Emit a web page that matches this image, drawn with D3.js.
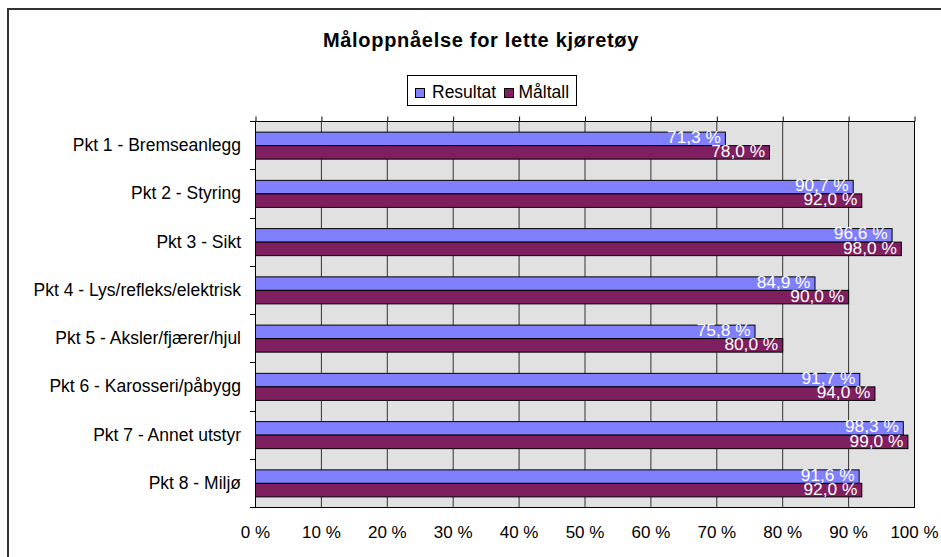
<!DOCTYPE html>
<html>
<head>
<meta charset="utf-8">
<script src="https://cdn.jsdelivr.net/npm/d3@7"></script>
<style>
  html, body { margin: 0; padding: 0; background: #fff; }
  svg { display: block; font-family: "Liberation Sans", Arial, sans-serif; }
</style>
</head>
<body>
<svg id="chart" width="941" height="557"></svg>
<script>
// Inspection points and their scores (percent)
const categories = [
  "Pkt 1 - Bremseanlegg",
  "Pkt 2 - Styring",
  "Pkt 3 - Sikt",
  "Pkt 4 - Lys/refleks/elektrisk",
  "Pkt 5 - Aksler/fjærer/hjul",
  "Pkt 6 - Karosseri/påbygg",
  "Pkt 7 - Annet utstyr",
  "Pkt 8 - Miljø"
];
const seriesNames = ["Resultat", "Måltall"];
const resultat = [71.3, 90.7, 96.6, 84.9, 75.8, 91.7, 98.3, 91.6];
const maltall  = [78.0, 92.0, 98.0, 90.0, 80.0, 94.0, 99.0, 92.0];
const xTicks = [0, 10, 20, 30, 40, 50, 60, 70, 80, 90, 100];
const seriesColors = ["#8080ff", "#7f1f5f"];

const seriesValues = [resultat, maltall];
const rows = categories.map((c, i) => ({
  cat: c,
  vals: seriesNames.map((s, k) => ({ series: s, value: seriesValues[k][i], k }))
}));

const fmt = v => v.toFixed(1).replace(".", ",") + " %";

const svg = d3.select("#chart");
const plot = { left: 255, right: 914, top: 121, bottom: 507 };

// outer chart frame (runs past the right and bottom edges)
svg.append("rect")
  .attr("x", 8).attr("y", 9).attr("width", 1000).attr("height", 700)
  .attr("fill", "#fff").attr("stroke", "#333").attr("stroke-width", 2);

// title
svg.append("text")
  .attr("x", 481).attr("y", 46.5)
  .attr("text-anchor", "middle")
  .attr("font-size", 20).attr("font-weight", "bold")
  .attr("letter-spacing", 0.7)
  .attr("fill", "#000")
  .text("Måloppnåelse for lette kjøretøy");

// scales
const x = d3.scaleLinear().domain([0, 100]).range([plot.left, plot.right]);
const y = d3.scaleBand().domain(categories).range([plot.top, plot.bottom]).padding(0);
const bw = y.bandwidth();
const y1 = d3.scaleBand().domain(seriesNames).range([bw * 0.22, bw * 0.78]).padding(0);

// plot background
svg.append("rect")
  .attr("x", plot.left).attr("y", plot.top)
  .attr("width", plot.right - plot.left).attr("height", plot.bottom - plot.top)
  .attr("fill", "#e1e1e1");

// vertical gridlines
svg.append("g").selectAll("line")
  .data(xTicks.filter(t => t > 0 && t < 100))
  .join("line")
  .attr("x1", d => x(d) + 0.5).attr("x2", d => x(d) + 0.5)
  .attr("y1", plot.top).attr("y2", plot.bottom)
  .attr("stroke", "#333").attr("stroke-width", 1);

// plot frame
svg.append("rect")
  .attr("x", plot.left + 0.5).attr("y", plot.top + 0.5)
  .attr("width", plot.right - plot.left).attr("height", plot.bottom - plot.top)
  .attr("fill", "none").attr("stroke", "#000").attr("stroke-width", 1);

// top tick marks of the value axis
svg.append("g")
  .attr("transform", `translate(0.5,${plot.top + 0.5})`)
  .call(d3.axisTop(x).tickValues(xTicks).tickSize(5).tickFormat(""))
  .call(g => g.select(".domain").remove())
  .call(g => g.selectAll("line").attr("stroke", "#000"));

// value axis labels
svg.append("g")
  .attr("transform", `translate(0,${plot.bottom})`)
  .call(d3.axisBottom(x).tickValues(xTicks).tickSize(0).tickPadding(18.5)
    .tickFormat(d => d + " %"))
  .call(g => g.select(".domain").remove())
  .call(g => g.selectAll("text")
    .attr("font-size", 17).attr("fill", "#000")
    .attr("font-family", "Liberation Sans, Arial, sans-serif"));

// category axis labels
svg.append("g")
  .attr("transform", `translate(${plot.left},0)`)
  .call(d3.axisLeft(y).tickSize(0).tickPadding(14))
  .call(g => g.select(".domain").remove())
  .call(g => g.selectAll("text")
    .attr("font-size", 17.5).attr("fill", "#000").attr("dy", "0.34em")
    .attr("font-family", "Liberation Sans, Arial, sans-serif"));

// category boundary tick marks
const bounds = d3.range(categories.length + 1).map(i => plot.top + i * y.step());
svg.append("g").selectAll("line")
  .data(bounds)
  .join("line")
  .attr("x1", plot.left - 5).attr("x2", plot.left)
  .attr("y1", d => Math.round(d) + 0.5).attr("y2", d => Math.round(d) + 0.5)
  .attr("stroke", "#000");

// bars
const groups = svg.append("g").selectAll("g")
  .data(rows)
  .join("g")
  .attr("transform", d => `translate(0,${y(d.cat)})`);

groups.selectAll("rect")
  .data(d => d.vals)
  .join("rect")
  .attr("x", x(0) + 0.5)
  .attr("y", d => y1(d.series) + 0.5)
  .attr("width", d => x(d.value) - x(0))
  .attr("height", y1.bandwidth())
  .attr("fill", d => seriesColors[d.k])
  .attr("stroke", "#000").attr("stroke-width", 1);

// value labels inside bar ends
groups.selectAll("text")
  .data(d => d.vals)
  .join("text")
  .attr("x", d => x(d.value) - 4)
  .attr("y", d => y1(d.series) + y1.bandwidth() / 2)
  .attr("dy", d => d.k === 0 ? "0.26em" : "0.31em")
  .attr("text-anchor", "end")
  .attr("font-size", 17.3)
  .attr("fill", "#fff")
  .text(d => fmt(d.value));

// legend
const legend = svg.append("g");
legend.append("rect")
  .attr("x", 407.5).attr("y", 75.5).attr("width", 169).attr("height", 30)
  .attr("fill", "#fff").attr("stroke", "#000");
const legendItems = [
  { name: seriesNames[0], sx: 415, tx: 432 },
  { name: seriesNames[1], sx: 504, tx: 518.5 }
];
legendItems.forEach((it, k) => {
  legend.append("rect")
    .attr("x", it.sx + 0.5).attr("y", 88.5).attr("width", 9).attr("height", 9)
    .attr("fill", seriesColors[k]).attr("stroke", "#000");
  legend.append("text")
    .attr("x", it.tx).attr("y", 98.3)
    .attr("font-size", 17.5).attr("fill", "#000")
    .text(it.name);
});
</script>
</body>
</html>
